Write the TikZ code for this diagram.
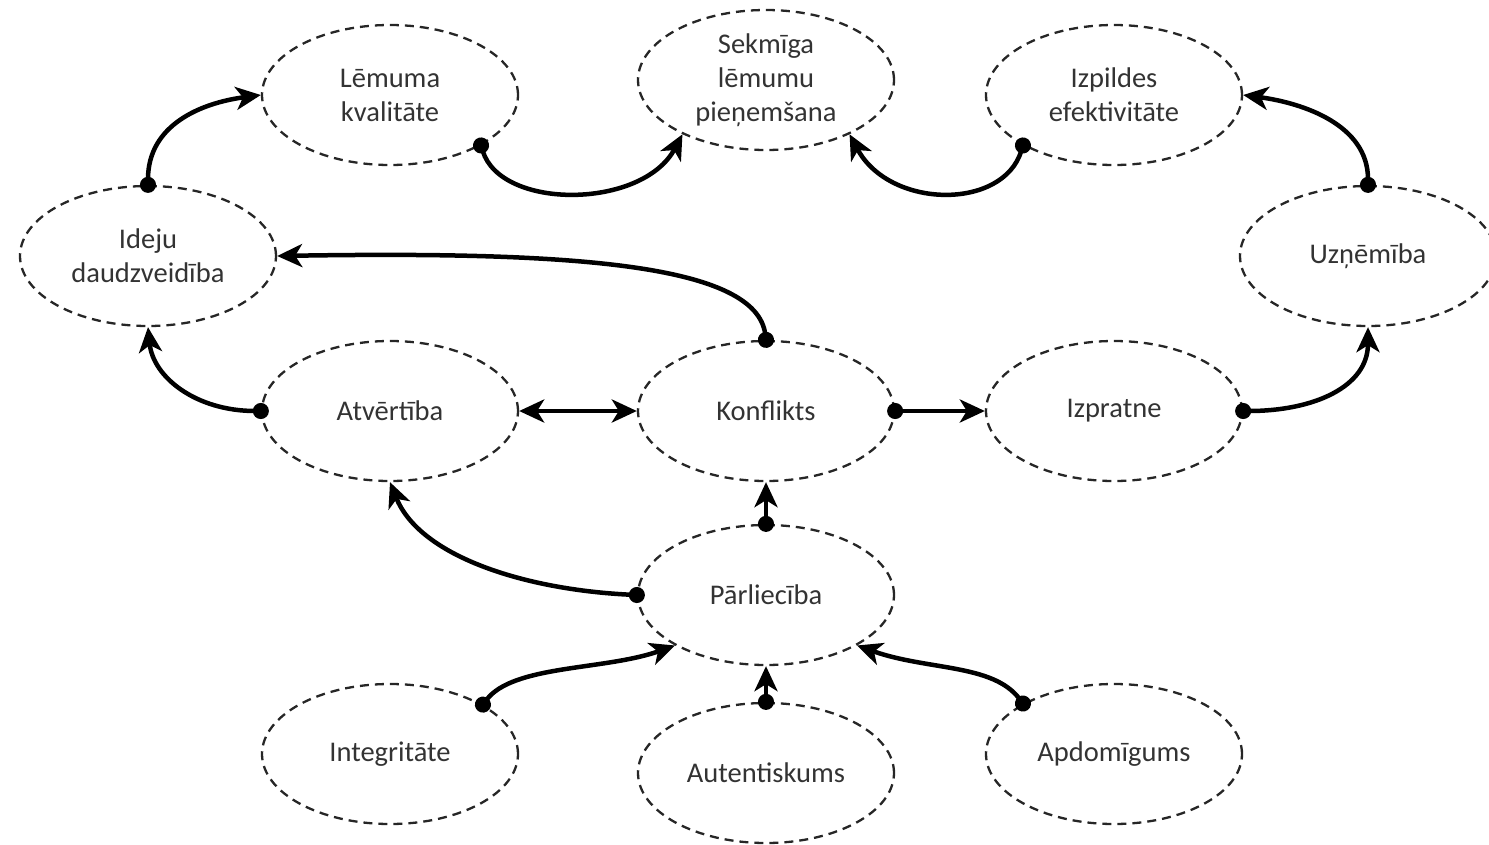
\documentclass[tikz,border=0pt]{standalone}
\usepackage{fontspec}
\setmainfont{Carlito}
\usetikzlibrary{shapes.geometric,arrows.meta}
\begin{document}
\begin{tikzpicture}[x=1pt,y=-1pt,
  oval/.style={ellipse,draw=black!85,line width=2.3pt,dash pattern=on 9pt off 6pt,
    minimum width=256pt,minimum height=140pt,inner sep=0pt,align=center,
    text=black!80,font=\fontsize{28.5}{34}\selectfont},
  conn/.style={line width=4.5pt,black,shorten <=-8pt,{Circle[length=16pt]}-{Stealth[length=25pt,width=23pt,inset=7pt]}},
  both/.style={line width=4.5pt,black,{Stealth[length=25pt,width=23pt,inset=7pt]}-{Stealth[length=25pt,width=23pt,inset=7pt]}}]
\useasboundingbox (0,0) rectangle (1489,844);
\node[oval] (lem) at (390,95) {Lēmuma\\kvalitāte};
\node[oval] (sek) at (766,80) {Sekmīga\\lēmumu\\pieņemšana};
\node[oval] (izp) at (1114,95) {Izpildes\\efektivitāte};
\node[oval] (ide) at (148,256) {Ideju\\daudzveidība};
\node[oval] (uzn) at (1368,256) {Uzņēmība};
\node[oval] (atv) at (390,411) {Atvērtība};
\node[oval] (kon) at (766,411) {Konflikts};
\node[oval] (izr) at (1114,411) {Izpratne};
\node[oval] (par) at (766,595) {Pārliecība};
\node[oval] (int) at (390,754) {Integritāte};
\node[oval] (aut) at (766,773) {Autentiskums};
\node[oval] (apd) at (1114,754) {Apdomīgums};

\draw[conn] (ide.north) .. controls +(0,-60) and +(-60,8) .. (lem.west);
\draw[conn] (lem.-29) .. controls +(20,65) and +(-40,75) .. (sek.-147);
\draw[conn] (izp.-151) .. controls +(-20,65) and +(40,75) .. (sek.-33);
\draw[conn] (uzn.north) .. controls +(0,-60) and +(60,8) .. (izp.east);
\draw[conn] (kon.north) .. controls +(-10,-75) and +(300,-5) .. (ide.east);
\draw[conn] (atv.west) .. controls +(-65,0) and +(5,50) .. (ide.south);
\draw[both] (atv.east) -- (kon.west);
\draw[conn] (kon.east) -- (izr.west);
\draw[conn] (izr.east) .. controls +(70,0) and +(0,60) .. (uzn.south);
\draw[conn] (par.north) -- (kon.south);
\draw[conn] (par.west) .. controls +(-110,-5) and +(30,75) .. (atv.south);
\draw[conn] (int.28) .. controls +(30,-40) and +(-70,25) .. (par.-151);
\draw[conn] (aut.north) -- (par.south);
\draw[conn] (apd.151) .. controls +(-30,-40) and +(70,25) .. (par.-29);
\end{tikzpicture}
\end{document}
